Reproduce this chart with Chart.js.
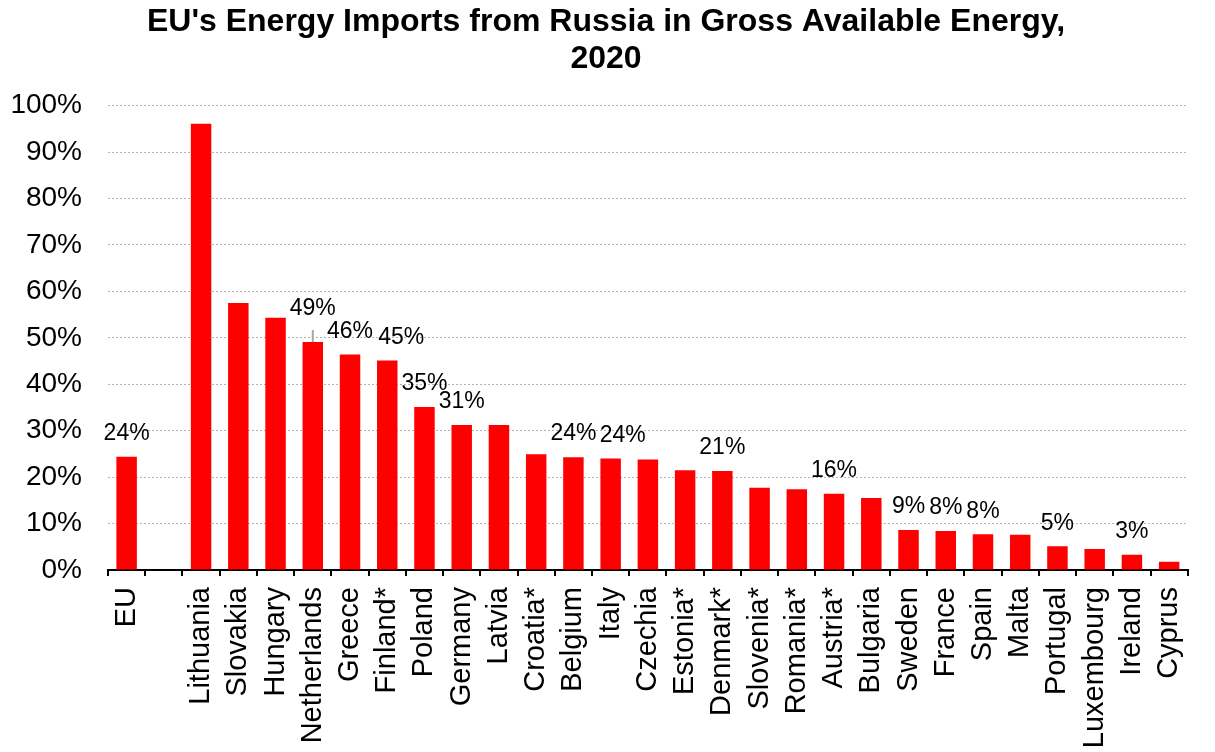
<!DOCTYPE html>
<html>
<head>
<meta charset="utf-8">
<title>EU energy imports from Russia</title>
<script src="https://cdn.jsdelivr.net/npm/chart.js@4.4.0/dist/chart.umd.min.js"></script>
<style>
  html, body { margin: 0; padding: 0; background: #fff; }
  #wrap { width: 1215px; height: 752px; }
</style>
</head>
<body>
<div id="wrap"><canvas id="chart" width="1215" height="752"></canvas></div>
<script>
// share of Russian imports in gross available energy, 2020 (%)
const categories = ['EU', '', 'Lithuania', 'Slovakia', 'Hungary', 'Netherlands', 'Greece', 'Finland*',
  'Poland', 'Germany', 'Latvia', 'Croatia*', 'Belgium', 'Italy', 'Czechia', 'Estonia*', 'Denmark*',
  'Slovenia*', 'Romania*', 'Austria*', 'Bulgaria', 'Sweden', 'France', 'Spain', 'Malta', 'Portugal',
  'Luxembourg', 'Ireland', 'Cyprus'];
const shares = [24.4, null, 96.1, 57.5, 54.3, 49.1, 46.4, 45.1,
  35.1, 31.2, 31.2, 24.9, 24.3, 24.0, 23.8, 21.5, 21.3,
  17.7, 17.4, 16.4, 15.5, 8.6, 8.4, 7.7, 7.6, 5.1,
  4.5, 3.3, 1.8];
const labelled = ['EU', 'Netherlands', 'Greece', 'Finland*', 'Poland', 'Germany', 'Belgium', 'Italy',
  'Denmark*', 'Austria*', 'Sweden', 'France', 'Spain', 'Portugal', 'Ireland'];
const yTicks = [0, 10, 20, 30, 40, 50, 60, 70, 80, 90, 100];

const FONT = "'Liberation Sans', Arial, sans-serif";

// a few labels sit off-centre; Netherlands gets a leader line
const labelNudge = {
  'Netherlands': { dx: 0, dy: -10, leader: true },
  'Finland*': { dx: 14, dy: 0 },
  'Italy': { dx: 12, dy: 0 }
};

const valueLabels = {
  id: 'valueLabels',
  afterDatasetsDraw(chart) {
    const ctx = chart.ctx;
    const meta = chart.getDatasetMeta(0);
    ctx.save();
    ctx.font = '23px ' + FONT;
    ctx.textAlign = 'center';
    ctx.textBaseline = 'middle';
    meta.data.forEach((bar, i) => {
      const name = categories[i];
      const v = shares[i];
      if (v == null || !labelled.includes(name)) return;
      const n = labelNudge[name] || { dx: 0, dy: 0 };
      const x = bar.x + n.dx;
      const y = bar.y - 23 + n.dy;
      if (n.leader) {
        ctx.strokeStyle = '#a6a6a6';
        ctx.lineWidth = 2;
        ctx.beginPath();
        ctx.moveTo(bar.x, y + 21);
        ctx.lineTo(bar.x, bar.y);
        ctx.stroke();
      }
      ctx.fillStyle = '#000';
      ctx.fillText(Math.round(v) + '%', x, y);
    });
    ctx.restore();
  }
};

new Chart(document.getElementById('chart'), {
  type: 'bar',
  data: {
    labels: categories,
    datasets: [{
      data: shares,
      backgroundColor: '#ff0000',
      borderWidth: 0,
      categoryPercentage: 1,
      barPercentage: 0.55
    }]
  },
  options: {
    responsive: false,
    animation: false,
    layout: { padding: { left: 0, right: 3, top: 0, bottom: 0 } },
    plugins: {
      legend: { display: false },
      tooltip: { enabled: false },
      title: {
        display: true,
        text: ["EU's Energy Imports from Russia in Gross Available Energy,", '2020'],
        color: '#000',
        font: { family: FONT, size: 32, weight: 'bold', lineHeight: 1.15 },
        padding: { top: 4, bottom: 28 }
      }
    },
    scales: {
      x: {
        afterFit(scale) { scale.height = 182; },
        grid: {
          offset: true,
          drawOnChartArea: false,
          drawTicks: true,
          tickLength: 6,
          color: '#000',
          lineWidth: 2
        },
        border: { display: true, color: '#000', width: 2 },
        ticks: {
          autoSkip: false,
          minRotation: 90,
          maxRotation: 90,
          padding: 11,
          color: '#000',
          font: { family: FONT, size: 29 }
        }
      },
      y: {
        min: 0,
        max: 100,
        afterFit(scale) { scale.width = 108; },
        afterBuildTicks(scale) { scale.ticks = yTicks.map(v => ({ value: v })); },
        grid: {
          drawTicks: false,
          color: '#b3b3b3',
          lineWidth: 1
        },
        border: { display: false, dash: [2, 2] },
        ticks: {
          padding: 26,
          color: '#000',
          font: { family: FONT, size: 28 },
          callback: v => v + '%'
        }
      }
    }
  },
  plugins: [valueLabels]
});
</script>
</body>
</html>
